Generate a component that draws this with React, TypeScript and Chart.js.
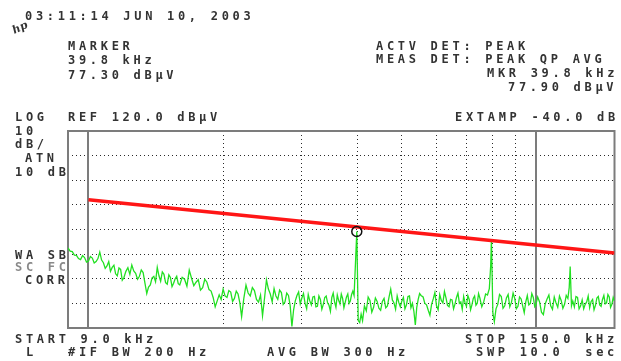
import React, { useEffect, useRef } from "react";
import { Chart, registerables } from "chart.js";

Chart.register(...registerables);

// ---- data ----
const TRACE_FREQ_KHZ = [
  9.0, 9.1, 9.2, 9.3, 9.4, 9.5, 9.6, 9.7, 9.8, 9.9,
  10.0, 10.1, 10.2, 10.3, 10.4, 10.5, 10.6, 10.7, 10.8, 10.9,
  11.0, 11.1, 11.2, 11.3, 11.4, 11.5, 11.6, 11.7, 11.8, 11.9,
  12.0,
  12.125, 12.25, 12.375, 12.5, 12.625, 12.75, 12.875, 13.0,
  13.125, 13.25, 13.375, 13.5, 13.625, 13.75, 13.875, 14.0,
  14.125, 14.25, 14.375, 14.5, 14.625, 14.75, 14.875, 15.0,
  15.125, 15.25, 15.375, 15.5, 15.625, 15.75, 15.875, 16.0,
  16.2, 16.4, 16.6, 16.8, 17.0, 17.2, 17.4, 17.6, 17.8, 18.0,
  18.2, 18.4, 18.6, 18.8, 19.0, 19.2, 19.4, 19.6, 19.8, 20.0,
  20.2, 20.4, 20.6, 20.8, 21.0, 21.2, 21.4, 21.6, 21.8, 22.0,
  22.25, 22.5, 22.75, 23.0, 23.25, 23.5, 23.75, 24.0,
  24.25, 24.5, 24.75, 25.0, 25.25, 25.5, 25.75, 26.0,
  26.25, 26.5, 26.75, 27.0, 27.25, 27.5, 27.75, 28.0,
  28.25, 28.5, 28.75, 29.0, 29.25, 29.5, 29.75, 30.0,
  30.25, 30.5, 30.75, 31.0, 31.25, 31.5, 31.75, 32.0,
  32.25, 32.5, 32.75, 33.0, 33.25, 33.5, 33.75, 34.0,
  34.25, 34.5, 34.75, 35.0, 35.25, 35.5, 35.75, 36.0,
  36.25, 36.5, 36.75, 37.0, 37.25, 37.5, 37.75, 38.0,
  38.25, 38.5, 38.75, 39.0, 39.25, 39.5,
  39.8, 40.1, 40.4, 40.7, 41.0,
  41.4, 41.8, 42.2, 42.6, 43.0, 43.4, 43.8, 44.2, 44.6, 45.0,
  45.4, 45.8, 46.2, 46.6, 47.0, 47.4, 47.8, 48.2, 48.6, 49.0,
  49.4, 49.8, 50.2, 50.6, 51.0, 51.4, 51.8, 52.2, 52.6, 53.0,
  53.4, 53.8, 54.2, 54.6, 55.0, 55.4,
  56.0, 56.5, 57.0, 57.5, 58.0, 58.5, 59.0, 59.5, 60.0, 60.5,
  61.0, 61.5, 62.0, 62.5, 63.0, 63.5, 64.0, 64.5, 65.0, 65.5,
  66.0, 66.5, 67.0, 67.5, 68.0, 68.5, 69.0, 69.5, 70.0, 70.5,
  71.0, 71.5, 72.0, 72.5, 73.0, 73.5, 74.0, 74.5, 75.0,
  75.75, 76.5, 77.25, 78.0, 78.75, 79.3, 79.6, 80.2, 80.8, 81.5,
  82.25, 83.0, 83.75, 84.5, 85.25, 86.0, 86.75, 87.5, 88.25, 89.0,
  89.75, 90.5, 91.25, 92.0, 92.75, 93.5, 94.25, 95.0, 95.75, 96.5,
  97.25, 98.0, 98.75, 99.5,
  100, 101, 102, 103, 104, 105, 106, 107, 108, 109,
  110, 111, 112, 113, 114, 115, 116, 117, 118, 118.8,
  119.4, 120.2, 121, 122, 123, 124, 125, 126, 127, 128,
  129, 130, 131, 132, 133, 134, 135, 136, 137, 138,
  139, 140, 141, 142, 143, 144, 145, 146, 147, 148,
  149, 150,
];

const TRACE_LEVEL_DBUV = [
  72.5, 71.2, 71.0, 69.6, 69.5, 68.2, 67.8, 69.4, 68.6, 66.8,
  67.2, 69.0, 68.4, 66.4, 67.0, 68.2, 70.8, 67.6, 66.5, 64.2,
  65.2, 67.0, 63.0, 64.6, 65.5, 62.0, 61.2, 64.4, 63.8, 59.4,
  60.4,
  63.0, 64.5, 61.8, 65.6, 63.2, 62.2, 59.8, 61.0,
  63.6, 62.5, 58.2, 54.0, 56.6, 57.5, 60.4, 61.0,
  58.8, 64.6, 61.2, 59.0, 62.8, 61.8, 58.4, 57.8,
  61.6, 60.5, 56.8, 58.2, 60.0, 61.0, 58.0, 57.5,
  60.6, 59.8, 57.0, 63.5, 60.2, 57.2, 58.6, 59.6, 55.4, 56.4,
  59.8, 58.6, 55.6, 55.0, 52.4, 48.6, 51.0, 53.5, 51.6, 55.8,
  53.0, 52.4, 55.2, 54.6, 50.8, 52.0, 55.0, 53.8, 50.2, 44.6,
  52.0, 57.4, 54.2, 53.0, 56.4, 55.2, 51.6, 50.5,
  53.4, 45.0, 52.0, 59.5, 55.8, 53.8, 50.6, 56.0,
  53.0, 51.6, 55.4, 54.4, 49.6, 50.6, 54.2, 53.2,
  49.0, 40.6, 47.4, 51.0, 53.2, 54.6, 49.8, 52.2,
  54.0, 50.0, 47.8, 53.6, 51.0, 49.4, 52.6, 52.8,
  48.6, 48.8, 53.0, 51.6, 47.6, 49.6, 52.4, 53.0,
  50.2, 49.2, 46.8, 52.4, 54.2, 50.6, 48.4, 53.4,
  51.2, 49.8, 53.8, 52.0, 48.2, 50.4, 52.6, 53.8,
  50.0, 51.0, 53.6, 55.0, 53.2, 64.8,
  79.2, 43.0, 42.2, 45.6, 43.0,
  49.0, 47.0, 52.6, 51.2, 46.4, 48.4, 52.2, 50.8, 48.0, 47.2,
  50.8, 52.0, 48.2, 49.0, 52.6, 55.8, 51.4, 50.2, 47.6, 53.0,
  50.4, 48.6, 51.0, 52.4, 47.8, 49.4, 52.8, 53.0, 48.2, 50.0,
  46.8, 41.2, 48.4, 51.6, 54.0, 53.2,
  52.6, 50.0, 49.4, 47.2, 45.2, 49.6, 51.8, 54.4, 49.0, 47.4,
  53.6, 51.2, 50.2, 54.8, 52.2, 49.2, 48.6, 51.6, 51.4, 47.8,
  49.8, 52.4, 54.2, 50.0, 50.6, 47.6, 52.8, 50.2, 48.8, 53.2,
  51.6, 47.4, 49.4, 52.0, 53.0, 49.2, 50.0, 54.0, 52.2,
  48.6, 50.6, 53.8, 53.4, 56.0, 65.4, 75.8, 46.0, 42.6, 47.8,
  49.6, 53.6, 52.8, 48.0, 49.0, 52.2, 53.6, 48.6, 50.4, 54.2,
  52.0, 47.8, 48.8, 52.6, 51.8, 49.0, 46.2, 50.6, 53.2, 49.4,
  50.0, 54.0, 52.4, 48.6,
  49.2, 52.6, 50.6, 46.4, 45.4, 49.8, 51.8, 53.4, 49.0, 47.6,
  52.6, 50.2, 48.4, 53.0, 51.2, 48.0, 49.6, 53.2, 52.0, 56.4,
  65.0, 49.0, 51.0, 48.6, 52.8, 52.4, 47.8, 49.0, 51.4, 47.8,
  49.6, 50.6, 53.0, 48.2, 50.8, 51.6, 47.4, 49.2, 52.2, 52.8,
  49.4, 48.8, 51.6, 53.2, 49.8, 50.2, 53.6, 52.6, 48.4, 49.6,
  52.4, 51.0,
];

const LIMIT_FREQ_KHZ = [10, 150];
const LIMIT_LEVEL_DBUV = [92.1, 70.5];

const MARKER_FREQ_KHZ = [39.8];
const MARKER_LEVEL_DBUV = [79.2];

const X_MIN_KHZ = 9;
const X_MAX_KHZ = 150;
const X_GRID_KHZ = [20, 30, 40, 50, 60, 70, 80, 90];
const X_MAJOR_KHZ = [10, 100];
const Y_MIN_DBUV = 40;
const Y_MAX_DBUV = 120;
const Y_STEP_DB = 10;

// ---- plugin: instrument frame and solid 10 / 100 kHz lines ----
const framePlugin = {
  id: "frame",
  beforeDatasetsDraw(chart: any) {
    const { ctx, chartArea: a, scales } = chart;
    const x = scales.x;
    ctx.save();
    ctx.strokeStyle = "#7c7c7c";
    ctx.lineWidth = 2;
    X_MAJOR_KHZ.forEach((f) => {
      const px = Math.round(x.getPixelForValue(f));
      ctx.beginPath();
      ctx.moveTo(px, a.top);
      ctx.lineTo(px, a.bottom);
      ctx.stroke();
    });
    ctx.strokeRect(a.left, a.top, a.right - a.left, a.bottom - a.top);
    ctx.restore();
  },
};

const FONT = 'bold 12px "DejaVu Sans Mono", "Liberation Mono", monospace';

function T({ x, y, children, color }: { x: number; y: number; children: any; color?: string }) {
  return (
    <div
      style={{
        position: "absolute",
        left: x,
        top: y - 6,
        font: FONT,
        lineHeight: "12px",
        letterSpacing: "3.7px",
        whiteSpace: "pre",
        color: color || "#333",
      }}
    >
      {children}
    </div>
  );
}

export default function App() {
  const ref = useRef<HTMLCanvasElement | null>(null);

  useEffect(() => {
    if (!ref.current) return;
    const trace = TRACE_FREQ_KHZ.map((f, i) => ({ x: f, y: TRACE_LEVEL_DBUV[i] }));
    const limit = LIMIT_FREQ_KHZ.map((f, i) => ({ x: f, y: LIMIT_LEVEL_DBUV[i] }));
    const marker = MARKER_FREQ_KHZ.map((f, i) => ({ x: f, y: MARKER_LEVEL_DBUV[i] }));

    const gridOpts = { color: "#2a2a2a", lineWidth: 1, drawTicks: false };
    const borderOpts = { display: false, dash: [1, 3] };

    const chart = new Chart(ref.current, {
      type: "line",
      data: {
        datasets: [
          {
            label: "Marker",
            data: marker,
            showLine: false,
            pointRadius: 5,
            pointStyle: "circle",
            pointBorderColor: "#111",
            pointBackgroundColor: "rgba(0,0,0,0)",
            pointBorderWidth: 1.5,
          },
          {
            label: "Limit",
            data: limit,
            borderColor: "#ff1616",
            borderWidth: 3.5,
            pointRadius: 0,
            tension: 0,
          },
          {
            label: "Trace",
            data: trace,
            borderColor: "#22e022",
            borderWidth: 1.3,
            pointRadius: 0,
            tension: 0,
          },
        ],
      } as any,
      options: {
        responsive: false,
        animation: false,
        devicePixelRatio: 1,
        layout: { padding: { left: 68, top: 131, right: 4, bottom: 33 } },
        plugins: { legend: { display: false }, tooltip: { enabled: false } },
        scales: {
          x: {
            type: "logarithmic",
            min: X_MIN_KHZ,
            max: X_MAX_KHZ,
            afterBuildTicks: (s: any) => {
              s.ticks = X_GRID_KHZ.map((v) => ({ value: v }));
            },
            afterFit: (s: any) => {
              s.height = 0;
            },
            ticks: { display: false },
            grid: gridOpts,
            border: borderOpts,
          },
          y: {
            type: "linear",
            min: Y_MIN_DBUV,
            max: Y_MAX_DBUV,
            afterFit: (s: any) => {
              s.width = 0;
            },
            ticks: { display: false, stepSize: Y_STEP_DB },
            grid: gridOpts,
            border: borderOpts,
          },
        },
      } as any,
      plugins: [framePlugin],
    });
    return () => chart.destroy();
  }, []);

  return (
    <div
      style={{
        position: "fixed",
        left: 0,
        top: 0,
        width: 621,
        height: 361,
        background: "#fff",
        overflow: "hidden",
      }}
    >
      <canvas ref={ref} width={621} height={361} style={{ position: "absolute", left: 0, top: 0 }} />

      <T x={25} y={16}>03:11:14 JUN 10, 2003</T>
      <div
        style={{
          position: "absolute",
          left: 12,
          top: 21,
          font: 'italic bold 11px "DejaVu Serif", serif',
          color: "#333",
          transform: "rotate(-25deg)",
        }}
      >
        hp
      </div>

      <T x={68} y={46}>MARKER</T>
      <T x={68} y={60}>39.8 kHz</T>
      <T x={68} y={75}>77.30 dBµV</T>

      <T x={376} y={46}>ACTV DET: PEAK</T>
      <T x={376} y={59}>MEAS DET: PEAK QP AVG</T>
      <T x={487} y={73}>MKR 39.8 kHz</T>
      <T x={508} y={87}>77.90 dBµV</T>

      <T x={15} y={117}>LOG</T>
      <T x={68} y={117}>REF 120.0 dBµV</T>
      <T x={455} y={117}>EXTAMP -40.0 dB</T>

      <T x={15} y={131}>10</T>
      <T x={15} y={144}>dB/</T>
      <T x={25} y={158}>ATN</T>
      <T x={15} y={172}>10 dB</T>

      <T x={15} y={255}>WA SB</T>
      <T x={15} y={267} color="#8a8a8a">SC FC</T>
      <T x={25} y={280}>CORR</T>

      <T x={15} y={339}>START 9.0 kHz</T>
      <T x={26} y={352}>L</T>
      <T x={68} y={352}>#IF BW 200 Hz</T>
      <T x={267} y={352}>AVG BW 300 Hz</T>
      <T x={465} y={339}>STOP 150.0 kHz</T>
      <T x={476} y={352}>{"SWP 10.0  sec"}</T>
    </div>
  );
}
